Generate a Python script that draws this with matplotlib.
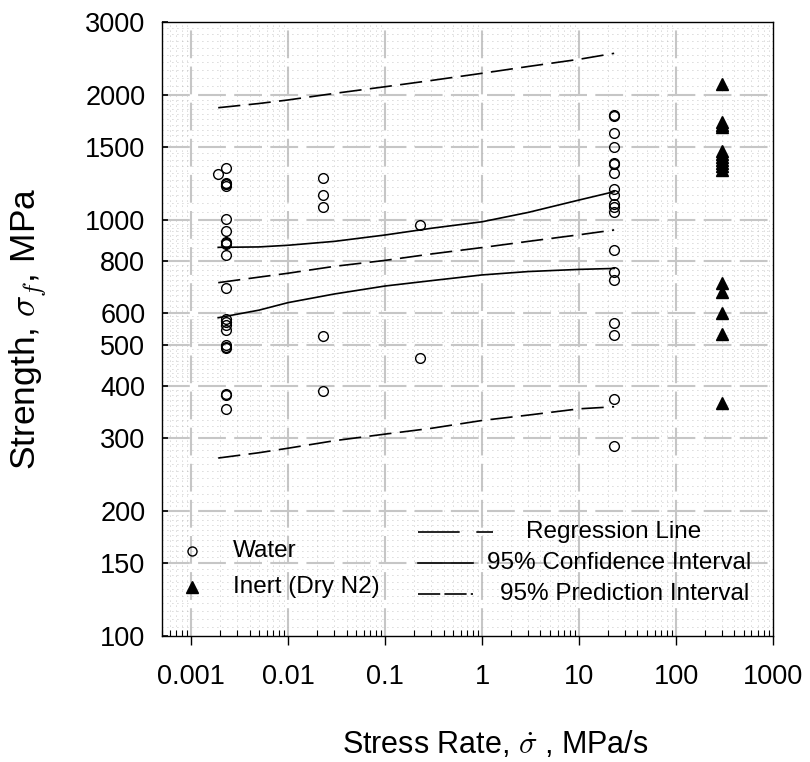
import matplotlib
matplotlib.use('Agg')
import matplotlib.pyplot as plt
import numpy as np
from matplotlib.ticker import FixedLocator, LogLocator, NullFormatter

plt.rcParams['font.family'] = ['Liberation Sans', 'DejaVu Sans']
plt.rcParams['mathtext.fontset'] = 'cm'
plt.rcParams['lines.scale_dashes'] = False

# ---------------- data ----------------
water_rate = ([0.0023] * 22 + [0.0019]
              + [0.023] * 5 + [0.23] * 2 + [23.0] * 19)
water_strength = [1336, 1230, 1220, 1210, 1006, 944, 888, 877, 825, 688,
                  580, 570, 560, 545, 500, 497, 493, 382, 380, 351, 1225, 884,
                  1294,
                  1262, 1149, 1078, 527, 389,
                  974, 466,
                  1792, 1780, 1619, 1503, 1376, 1366, 1298, 1188, 1150, 1095,
                  1076, 1049, 848, 751, 719, 565, 530, 371, 287]

inert_rate = [300.0] * 16
inert_strength = [2124, 1720, 1700, 1680, 1470, 1445, 1420, 1400, 1375,
                  1350, 1320, 705, 673, 598, 533, 364]

fit_rate = [0.0019, 0.005, 0.01, 0.03, 0.1, 0.3, 1.0, 3.0, 10.0, 23.0]
regression = [708, 730, 746, 775, 801, 830, 860, 890, 923, 948]
ci_upper = [861, 863, 871, 890, 922, 957, 992, 1045, 1119, 1172]
ci_lower = [583, 608, 634, 665, 695, 716, 739, 753, 762, 766]
pi_upper = [1866, 1910, 1948, 2020, 2096, 2170, 2258, 2345, 2440, 2522]
pi_lower = [268, 276, 283, 295, 306, 316, 330, 340, 352, 356]

x_ticks = [0.001, 0.01, 0.1, 1, 10, 100, 1000]
x_tick_labels = ['0.001', '0.01', '0.1', '1', '10', '100', '1000']
y_ticks = [100, 150, 200, 300, 400, 500, 600, 800, 1000, 1500, 2000, 3000]
y_tick_labels = [str(v) for v in y_ticks]

legend_markers = ['Water', 'Inert (Dry N2)']
legend_lines = ['Regression Line', '95% Confidence Interval',
                '95% Prediction Interval']

# ---------------- figure ----------------
fig = plt.figure(figsize=(8.1, 7.62), dpi=100)
ax = fig.add_axes([162 / 810, 126 / 762, 611 / 810, 614 / 762])
ax.set_xscale('log')
ax.set_yscale('log')
ax.set_xlim(0.0005, 1000)
ax.set_ylim(100, 3000)

ax.set_xticks(x_ticks, x_tick_labels)
ax.xaxis.set_minor_locator(LogLocator(base=10, subs=range(2, 10), numticks=100))
ax.xaxis.set_minor_formatter(NullFormatter())
ax.set_yticks(y_ticks, y_tick_labels)
y_minor = []
for a, b in zip(y_ticks[:-1], y_ticks[1:]):
    y_minor.extend(np.linspace(a, b, 11)[1:-1])
ax.yaxis.set_minor_locator(FixedLocator(y_minor))
ax.yaxis.set_minor_formatter(NullFormatter())

ax.tick_params(axis='x', which='major', direction='out', length=6.5,
               width=1.0, pad=14, labelsize=19.5)
ax.tick_params(axis='x', which='minor', direction='in', length=4, width=0.8)
ax.tick_params(axis='y', which='major', direction='in', length=4.5,
               width=1.2, pad=12, labelsize=19.5)
ax.tick_params(axis='y', which='minor', length=0)

ax.grid(True, which='major', color='#c6c6c6', lw=1.5, ls=(0, (20, 6)))
ax.grid(True, which='minor', color='#b4b4b4', lw=0.6, ls=(0, (0.6, 3.0)))
ax.set_axisbelow(True)
# no grid lines on the frame itself
fig.canvas.draw()
for t in ax.yaxis.get_major_ticks():
    if t.get_loc() in (100, 3000):
        t.gridline.set_visible(False)
for t in ax.xaxis.get_major_ticks():
    if t.get_loc() == 1000:
        t.gridline.set_visible(False)
for s in ax.spines.values():
    s.set_linewidth(1.0)
    s.set_color('black')

# data points
ax.plot(water_rate, water_strength, ls='none', marker='o', mfc='none',
        mec='black', mew=1.0, ms=7)
ax.plot(inert_rate, inert_strength, ls='none', marker='^', color='black',
        ms=8.5)

# fitted curves
dash = (0, (16, 6))
ax.plot(fit_rate, regression, color='black', lw=1.2, ls=dash)
ax.plot(fit_rate, ci_upper, color='black', lw=1.2)
ax.plot(fit_rate, ci_lower, color='black', lw=1.2)
ax.plot(fit_rate, pi_upper, color='black', lw=1.2, ls=dash)
ax.plot(fit_rate, pi_lower, color='black', lw=1.2, ls=dash)

# legend (left): markers
ax.plot([0.049], [0.1384], transform=ax.transAxes, ls='none', marker='o',
        mfc='none', mec='black', mew=1.0, ms=6.5, clip_on=False)
ax.plot([0.049], [0.0798], transform=ax.transAxes, ls='none', marker='^',
        color='black', ms=8, clip_on=False)
ax.text(0.1162, 0.1384, legend_markers[0], transform=ax.transAxes,
        ha='left', va='center', fontsize=17.5)
ax.text(0.1162, 0.0798, legend_markers[1], transform=ax.transAxes,
        ha='left', va='center', fontsize=17.5)

# legend (right): lines
ax.plot([0.419, 0.5417], [0.1694, 0.1694], transform=ax.transAxes,
        color='black', lw=1.2, ls=(0, (30, 12)))
ax.plot([0.419, 0.509], [0.1189, 0.1189], transform=ax.transAxes,
        color='black', lw=1.2)
ax.plot([0.419, 0.509], [0.0684, 0.0684], transform=ax.transAxes,
        color='black', lw=1.2, ls=(0, (16, 3)))
for xc, yc, lab in zip([0.7398, 0.7488, 0.7578], [0.1694, 0.1189, 0.0684],
                       legend_lines):
    ax.text(xc, yc, lab, transform=ax.transAxes, ha='center', va='center',
            fontsize=17.5)

# axis labels
ax.set_xlabel('Stress Rate, $\\dot{\\sigma}$ , MPa/s', fontsize=22)
ax.xaxis.set_label_coords(0.545, -0.176)
ax.xaxis.label.set_verticalalignment('center')
ax.set_ylabel('Strength, $\\sigma_f$, MPa', fontsize=25.5)
ax.yaxis.set_label_coords(-0.2185, 0.5)
ax.yaxis.label.set_verticalalignment('center')

fig.savefig('out.png', dpi=100)
